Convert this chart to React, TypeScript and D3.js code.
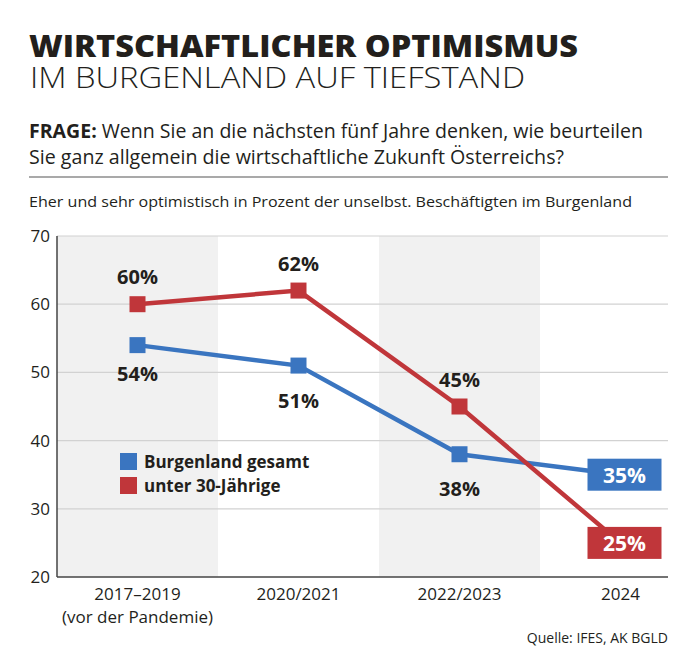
import * as d3 from 'd3';

const periods = ['2017–2019', '2020/2021', '2022/2023', '2024'];
const periodNotes = ['(vor der Pandemie)', '', '', ''];
const burgenlandGesamt = [54, 51, 38, 35];
const unter30 = [60, 62, 45, 25];
const yTicks = [20, 30, 40, 50, 60, 70];

const BLUE = '#3a75c0';
const RED = '#c0363a';
const DARK = '#231f1c';

export default function App() {
  const width = 700;
  const height = 658;
  const left = 57;
  const right = 668;
  const top = 236;
  const bottom = 577;

  const x = d3.scaleBand<string>().domain(periods).range([left, left + 161 * periods.length]).padding(0);
  const y = d3.scaleLinear().domain([20, 70]).range([bottom, top]);
  const cx = (p: string) => (x(p) ?? 0) + x.bandwidth() / 2;

  const line = d3.line<number>()
    .x((_, i) => cx(periods[i]))
    .y(d => y(d));

  const font = '"Open Sans", sans-serif';
  const cond = '"Open Sans", sans-serif';

  const series = [
    { name: 'Burgenland gesamt', values: burgenlandGesamt, color: BLUE, place: 'below' },
    { name: 'unter 30-Jährige', values: unter30, color: RED, place: 'above' },
  ];

  return (
    <svg width={width} height={height} style={{ display: 'block', position: 'absolute', left: 0, top: 0 }}>
      <rect width={width} height={height} fill="#fff" />
      {/* header */}
      <text x={29} y={57} fontFamily={font} fontWeight={800} fontSize={30} fill={DARK} textLength={549} lengthAdjust="spacingAndGlyphs">WIRTSCHAFTLICHER OPTIMISMUS</text>
      <text x={30} y={88} fontFamily={font} fontWeight={300} fontSize={30} fill={DARK} textLength={495} lengthAdjust="spacingAndGlyphs">IM BURGENLAND AUF TIEFSTAND</text>
      <text x={29} y={138} fontFamily={cond} fontSize={20} fill={DARK} textLength={614} lengthAdjust="spacingAndGlyphs">
        <tspan fontWeight={700}>FRAGE:</tspan> Wenn Sie an die nächsten fünf Jahre denken, wie beurteilen
      </text>
      <text x={29} y={164} fontFamily={cond} fontSize={20} fill={DARK} textLength={535} lengthAdjust="spacingAndGlyphs">Sie ganz allgemein die wirtschaftliche Zukunft Österreichs?</text>
      <line x1={29} x2={668} y1={177} y2={177} stroke="#555" strokeWidth={1.2} />
      <text x={29} y={207} fontFamily={cond} fontSize={15} fill={DARK} textLength={603} lengthAdjust="spacingAndGlyphs">Eher und sehr optimistisch in Prozent der unselbst. Beschäftigten im Burgenland</text>

      {/* shaded bands */}
      {periods.map((p, i) => i % 2 === 0 ? (
        <rect key={p} x={x(p)} y={top} width={Math.min(x.bandwidth(), right - (x(p) ?? 0))} height={bottom - top} fill="#f1f1f1" />
      ) : null)}

      {/* gridlines */}
      {yTicks.filter(t => t > 20).map(t => (
        <line key={t} x1={left} x2={right} y1={y(t)} y2={y(t)} stroke="#d2d2d2" strokeWidth={1.2} />
      ))}
      {yTicks.map(t => (
        <text key={t} x={50} y={y(t) + 6} textAnchor="end" fontFamily={cond} fontSize={17} fill={DARK}>{t}</text>
      ))}
      <line x1={left} x2={left} y1={top} y2={bottom} stroke="#444" strokeWidth={1.5} />
      <line x1={left} x2={right} y1={bottom} y2={bottom} stroke="#444" strokeWidth={1.5} />

      {/* x labels */}
      {periods.map((p, i) => (
        <g key={p}>
          <text x={cx(p)} y={600} textAnchor="middle" fontFamily={cond} fontSize={17} fill={DARK}>{p}</text>
          {periodNotes[i] && <text x={cx(p)} y={623} textAnchor="middle" fontFamily={cond} fontSize={17} fill={DARK}>{periodNotes[i]}</text>}
        </g>
      ))}

      {/* lines */}
      {series.map(s => (
        <path key={s.name} d={line(s.values) ?? ''} fill="none" stroke={s.color} strokeWidth={4.5} />
      ))}
      {series.map(s => s.values.slice(0, -1).map((v, i) => (
        <rect key={s.name + i} x={cx(periods[i]) - 8} y={y(v) - 8} width={16} height={16} fill={s.color} />
      )))}

      {/* value labels */}
      {series.map(s => s.values.map((v, i) => {
        const px = cx(periods[i]);
        const py = y(v);
        if (i === s.values.length - 1) {
          return (
            <g key={s.name + 'l' + i}>
              <rect x={px - 33} y={py - 16} width={74} height={32} fill={s.color} />
              <text x={px + 4} y={py + 8} textAnchor="middle" fontFamily={font} fontWeight={700} fontSize={21} fill="#fff">{v}%</text>
            </g>
          );
        }
        const dy = s.place === 'above' ? -20 : (i === 0 ? 36 : 42);
        return (
          <text key={s.name + 'l' + i} x={px} y={py + dy} textAnchor="middle" fontFamily={font} fontWeight={700} fontSize={20} fill={DARK}>{v}%</text>
        );
      }))}

      {/* legend */}
      {series.map((s, i) => (
        <g key={s.name} transform={`translate(120, ${453 + i * 24})`}>
          <rect width={17} height={17} fill={s.color} />
          <text x={24} y={15} fontFamily={cond} fontWeight={700} fontSize={17} fill={DARK}>{s.name}</text>
        </g>
      ))}

      <text x={668} y={643} textAnchor="end" fontFamily={cond} fontSize={14} fill={DARK}>Quelle: IFES, AK BGLD</text>
    </svg>
  );
}
